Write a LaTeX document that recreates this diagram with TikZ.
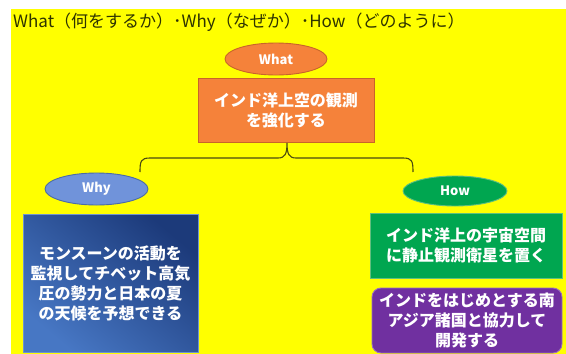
\documentclass[tikz,border=0pt]{standalone}
\usepackage{fontspec}
\newfontfamily\jp{Noto Sans CJK JP}
\usetikzlibrary{shapes.geometric}
\definecolor{yel}{HTML}{FFFF00}
\definecolor{titlec}{HTML}{2E3300}
\definecolor{orangefill}{HTML}{F5823A}
\definecolor{orangeline}{HTML}{C8642A}
\definecolor{whyfill}{HTML}{7093DA}
\definecolor{whyline}{HTML}{4A6AA8}
\definecolor{bluedark}{HTML}{1C3A7A}
\definecolor{bluelight}{HTML}{4777C4}
\definecolor{blueline}{HTML}{6F93CF}
\definecolor{greenfill}{HTML}{00A650}
\definecolor{greenline}{HTML}{5FBF7F}
\definecolor{purplefill}{HTML}{7030A0}
\definecolor{purpleline}{HTML}{9A6CC0}
\definecolor{bracec}{HTML}{4A4A10}
\tikzset{
  oval/.style={ellipse, inner sep=0pt, line width=0.9pt, text=white,
    font=\jp\bfseries\fontsize{13}{14}\selectfont},
  box/.style={rectangle, inner sep=0pt, line width=0.9pt, text=white, align=center,
    font=\jp\bfseries\fontsize{16}{20}\selectfont},
  bracket/.style={draw=bracec, line width=1.1pt},
}
\begin{document}
\begin{tikzpicture}[x=1pt,y=-1pt]
\useasboundingbox (0,0) rectangle (566,354);
\fill[yel] (11,9) rectangle (566,354);
\node[anchor=base west, inner sep=0pt, text=titlec,
  font=\jp\fontsize{17}{20}\selectfont] (title) at (13,27)
  {What（何をするか）･Why（なぜか）･How（どのように）};
% What
\node[oval, fill=orangefill, draw=orangeline, minimum width=102pt, minimum height=32pt] (what) at (276,59) {What};
\node[box, fill=orangefill, draw=orangeline, minimum width=176pt, minimum height=64pt] (whatbox) at (286,110)
  {インド洋上空の観測\\を強化する};
% Why
\node[oval, fill=whyfill, draw=whyline, minimum width=103pt, minimum height=32pt] (why) at (96.5,189) {Why};
\node[box, draw=blueline, shading=axis, top color=bluedark, bottom color=bluelight, shading angle=-40,
  minimum width=175pt, minimum height=138pt] (whybox) at (110.5,283)
  {モンスーンの活動を\\監視してチベット高気\\圧の勢力と日本の夏\\の天候を予想できる};
% How
\node[oval, fill=greenfill, draw=greenline, minimum width=104pt, minimum height=30pt] (how) at (455,191) {How};
\node[box, fill=greenfill, draw=greenline, minimum width=192pt, minimum height=65pt] (howbox) at (466,245.5)
  {インド洋上の宇宙空間\\に静止観測衛星を置く};
\node[box, fill=purplefill, draw=purpleline, rounded corners=9pt, minimum width=190pt, minimum height=65pt] (howbox2) at (467,320.5)
  {インドをはじめとする南\\アジア諸国と協力して\\開発する};
% bracket
\coordinate (bl) at (140,172);
\coordinate (br) at (413,172);
\coordinate (peak) at (287,143);
\draw[bracket] (bl) .. controls (140,161) and (141,158) .. (150,158) -- (278,158)
  .. controls (285,158) and (287,154) .. (peak)
  .. controls (287,154) and (289,158) .. (296,158) -- (403,158)
  .. controls (412,158) and (413,161) .. (br);
\end{tikzpicture}
\end{document}
